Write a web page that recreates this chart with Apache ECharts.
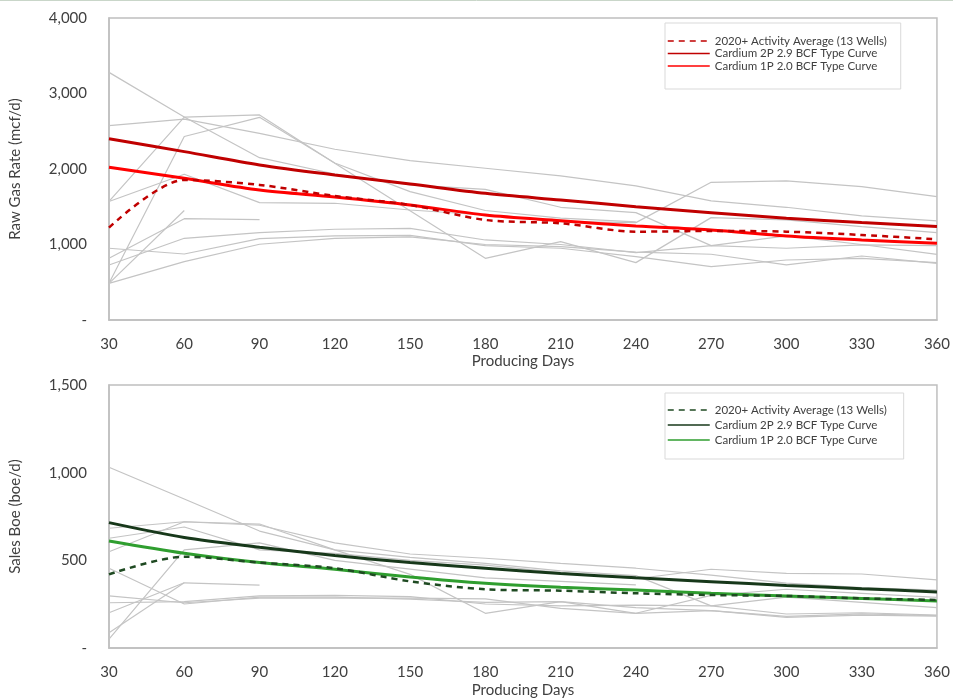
<!DOCTYPE html>
<html><head><meta charset="utf-8">
<script src="https://cdn.jsdelivr.net/npm/echarts@6/dist/echarts.min.js"></script>
<style>html,body{margin:0;padding:0;background:#fff}#c{width:953px;height:699px}</style>
</head><body><div id="c"></div>
<script>
const days = ['30','60','90','120','150','180','210','240','270','300','330','360'];
const yTicksTop = [0,1000,2000,3000,4000];
const yTicksBottom = [0,500,1000,1500];

// Top chart: Raw Gas Rate (mcf/d)
const gasAvg = [1223,1855,1789,1643,1524,1325,1281,1170,1179,1170,1126,1069];
const gas2P  = [2400,2230,2054,1921,1802,1678,1590,1501,1422,1347,1290,1240];
const gas1P  = [2023,1877,1722,1630,1524,1391,1316,1245,1192,1113,1060,1016];
const gasW1  = [3280,2690,2150,1934,1789,1731,1493,1422,985,1113,1000,870];
const gasW2  = [2575,2660,2473,2262,2111,2010,1908,1776,1577,1493,1378,1312];
const gasW3  = [1570,2686,2716,2076,1448,817,1038,760,1356,1325,1236,1157];
const gasW4  = [486,2430,2684,2080,1700,1450,1350,1300];
const gasW5  = [1570,1930,1554,1546,1457,1391,1303,1290,1824,1842,1766,1634];
const gasW6  = [486,1450];
const gasW7  = [817,1342,1330];
const gasW8  = [729,1082,1157,1202,1214,1060,1000,892,985,950,994,985];
const gasW9  = [950,874,1077,1113,1120,985,950,839,706,795,817,760];
const gasW10 = [486,773,1003,1082,1100,1000,971,900,871,729,848,751];

// Bottom chart: Sales Boe (boe/d)
const boeAvg = [420,521,487,455,380,335,327,312,302,297,283,274];
const boe2P  = [715,630,575,527,487,455,425,400,378,357,338,320];
const boe1P  = [610,540,487,449,405,369,346,331,312,297,283,268];
const boeW1  = [1031,850,667,560,517,483,440,413,240,290,260,230];
const boeW2  = [683,720,700,600,536,512,483,455,416,370,345,330];
const boeW3  = [549,720,707,560,420,198,264,198,300,335,312,289];
const boeW4  = [50,560,600,500,450,400,380,360];
const boeW5  = [626,690,560,540,500,473,430,395,449,426,422,388];
const boeW6  = [87,372];
const boeW7  = [201,372,359];
const boeW8  = [258,264,297,300,293,251,240,245,240,194,201,188];
const boeW9  = [455,251,290,290,279,260,264,230,213,175,188,182];
const boeW10 = [297,258,285,285,285,280,226,198,213,180,195,185];

const legendNames = ['2020+ Activity Average (13 Wells)','Cardium 2P 2.9 BCF Type Curve','Cardium 1P 2.0 BCF Type Curve'];
const legendNamesB = legendNames.map(n => n + ' ');
const FONT = 'Lato, "Open Sans", sans-serif';

function grayLine(data, idx, i){
  return {type:'line', name:'well'+idx+'_'+i, xAxisIndex:idx, yAxisIndex:idx, data:data, symbol:'none',
    lineStyle:{color:'#c4c4c4', width:1.2}, silent:true, z:1};
}
function mainLine(name, data, idx, color, width, dashed, z){
  return {type:'line', name:name, xAxisIndex:idx, yAxisIndex:idx, data:data, symbol:'none', smooth:0.3,
    lineStyle:{color:color, width:width, type: dashed ? [6,5] : 'solid'}, itemStyle:{color:color}, z:z};
}
const fmt = v => v === 0 ? '-' : v.toLocaleString('en-US');

const gasWells = [gasW1,gasW2,gasW3,gasW4,gasW5,gasW6,gasW7,gasW8,gasW9,gasW10];
const boeWells = [boeW1,boeW2,boeW3,boeW4,boeW5,boeW6,boeW7,boeW8,boeW9,boeW10];

const series = [];
gasWells.forEach((d,i)=>series.push(grayLine(d,0,i)));
boeWells.forEach((d,i)=>series.push(grayLine(d,1,i)));
series.push(mainLine(legendNames[0], gasAvg, 0, '#C00000', 2.5, true, 5));
series.push(mainLine(legendNames[1], gas2P, 0, '#C00000', 3, false, 4));
series.push(mainLine(legendNames[2], gas1P, 0, '#FF0000', 3, false, 3));
series.push(mainLine(legendNamesB[0], boeAvg, 1, '#1f4a22', 2.5, true, 5));
series.push(mainLine(legendNamesB[1], boe2P, 1, '#17381a', 3, false, 4));
series.push(mainLine(legendNamesB[2], boe1P, 1, '#2f9e2f', 3, false, 3));

function xAxis(idx){
  return {type:'category', gridIndex:idx, data:days, boundaryGap:false,
    axisLine:{lineStyle:{color:'#bfbfbf', width:1.5}}, axisTick:{show:false},
    axisLabel:{color:'#404040', fontSize:15, fontFamily:FONT, margin:17},
    name:'Producing Days', nameLocation:'middle', nameGap: idx===0 ? 34 : 35,
    nameTextStyle:{color:'#404040', fontSize:15, fontFamily:FONT}};
}
function yAxis(idx, max, interval, name){
  return {type:'value', gridIndex:idx, min:0, max:max, interval:interval,
    axisLine:{show:true, lineStyle:{color:'#bfbfbf', width:1.5}}, axisTick:{show:false}, splitLine:{show:false},
    axisLabel:{color:'#404040', fontSize:15, fontFamily:FONT, margin:22, formatter:fmt},
    name:name, nameLocation:'middle', nameGap:86, nameRotate:90,
    nameTextStyle:{color:'#404040', fontSize:15, fontFamily:FONT}};
}
function legend(top, data, gap, padTop, padBottom){
  return {data:data, orient:'vertical', left:665, top:top,
    padding:[padTop,14,padBottom,2], itemGap:gap, itemWidth:42, itemHeight:10,
    borderColor:'#d9d9d9', borderWidth:1, backgroundColor:'#fff',
    lineStyle:{width:1.5}, itemStyle:{opacity:0, borderWidth:0},
    textStyle:{color:'#404040', fontSize:11.5, fontFamily:FONT, lineHeight:12}};
}
const chart = echarts.init(document.getElementById('c'), null, {renderer:'canvas'});
chart.setOption({
  animation:false,
  backgroundColor:'#fff',
  grid:[
    {left:106, right:14, top:18, bottom:379, show:true, borderColor:'#bfbfbf', borderWidth:1.5, backgroundColor:'transparent'},
    {left:106, right:14, top:385, bottom:51, show:true, borderColor:'#bfbfbf', borderWidth:1.5, backgroundColor:'transparent'}
  ],
  xAxis:[xAxis(0), xAxis(1)],
  yAxis:[yAxis(0,4000,1000,'Raw Gas Rate (mcf/d)'), yAxis(1,1500,500,'Sales Boe (boe/d)')],
  legend:[legend(23, legendNames, 0.5, 12, 17), legend(393, legendNamesB, 3, 11, 13)],
  graphic:[{type:'line', shape:{x1:0,y1:0.5,x2:953,y2:0.5}, style:{stroke:'#c9d6c9', lineWidth:1}}],
  series:series
});
</script></body></html>
